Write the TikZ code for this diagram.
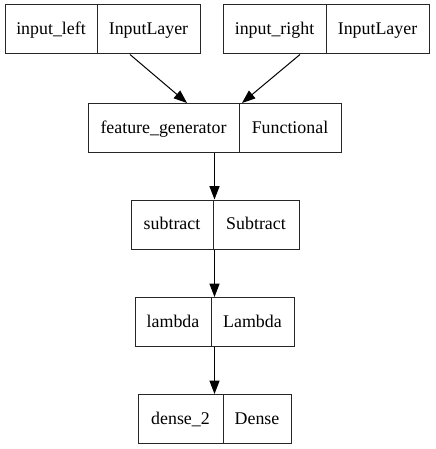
\documentclass[tikz,border=0pt]{standalone}
\usepackage{fontspec}
\setmainfont{Liberation Serif}
\usetikzlibrary{arrows.meta}
\begin{document}
\begin{tikzpicture}[x=0.75pt,y=-0.75pt,
  box/.style={draw=black!85, line width=0.75pt, inner sep=0pt, minimum height=36.75pt},
  lbl/.style={inner sep=0pt, anchor=base, font=\fontsize{13.4}{16}\selectfont},
  conn/.style={draw=black, line width=0.75pt, -{Triangle[length=10pt,width=7.5pt]}}]
\useasboundingbox[fill=white] (0,0) rectangle (435,449);
% input_left
\node[box, minimum width=146.25pt] (il) at (102.5,29.5) {};
\draw[black!85, line width=0.75pt] (97,5) -- (97,54);
\node[lbl] (ilA) at (51,34.5) {input\_left};
\node[lbl] (ilB) at (148.5,34.5) {InputLayer};
% input_right
\node[box, minimum width=154.5pt] (ir) at (326,29.5) {};
\draw[black!85, line width=0.75pt] (326,5) -- (326,54);
\node[lbl] (irA) at (274.5,34.5) {input\_right};
\node[lbl] (irB) at (377.5,34.5) {InputLayer};
% feature_generator
\node[box, minimum width=189.75pt] (fg) at (214.5,128) {};
\draw[black!85, line width=0.75pt] (239,103.5) -- (239,152.5);
\node[lbl] (fgA) at (163.5,133) {feature\_generator};
\node[lbl] (fgB) at (290,133) {Functional};
% subtract
\node[box, minimum width=126pt] (sub) at (215,224.5) {};
\draw[black!85, line width=0.75pt] (213,200) -- (213,249);
\node[lbl] (subA) at (172,229.5) {subtract};
\node[lbl] (subB) at (256,229.5) {Subtract};
% lambda
\node[box, minimum width=119.25pt] (lam) at (214.5,322) {};
\draw[black!85, line width=0.75pt] (211,297.5) -- (211,346.5);
\node[lbl] (lamA) at (173,327) {lambda};
\node[lbl] (lamB) at (252.5,327) {Lambda};
% dense_2
\node[box, minimum width=114.75pt] (den) at (214.5,419) {};
\draw[black!85, line width=0.75pt] (223,394.5) -- (223,443.5);
\node[lbl] (denA) at (180.5,424) {dense\_2};
\node[lbl] (denB) at (257,424) {Dense};
% connectors
\draw[conn] ([xshift=20.6pt]il.south) -- ([xshift=-20.6pt]fg.north);
\draw[conn] ([xshift=-19.5pt]ir.south) -- ([xshift=20.6pt]fg.north);
\draw[conn] (fg.south) -- (fg.south |- sub.north);
\draw[conn] (sub.south -| fg.south) -- (fg.south |- lam.north);
\draw[conn] (lam.south -| fg.south) -- (fg.south |- den.north);
\end{tikzpicture}
\end{document}
